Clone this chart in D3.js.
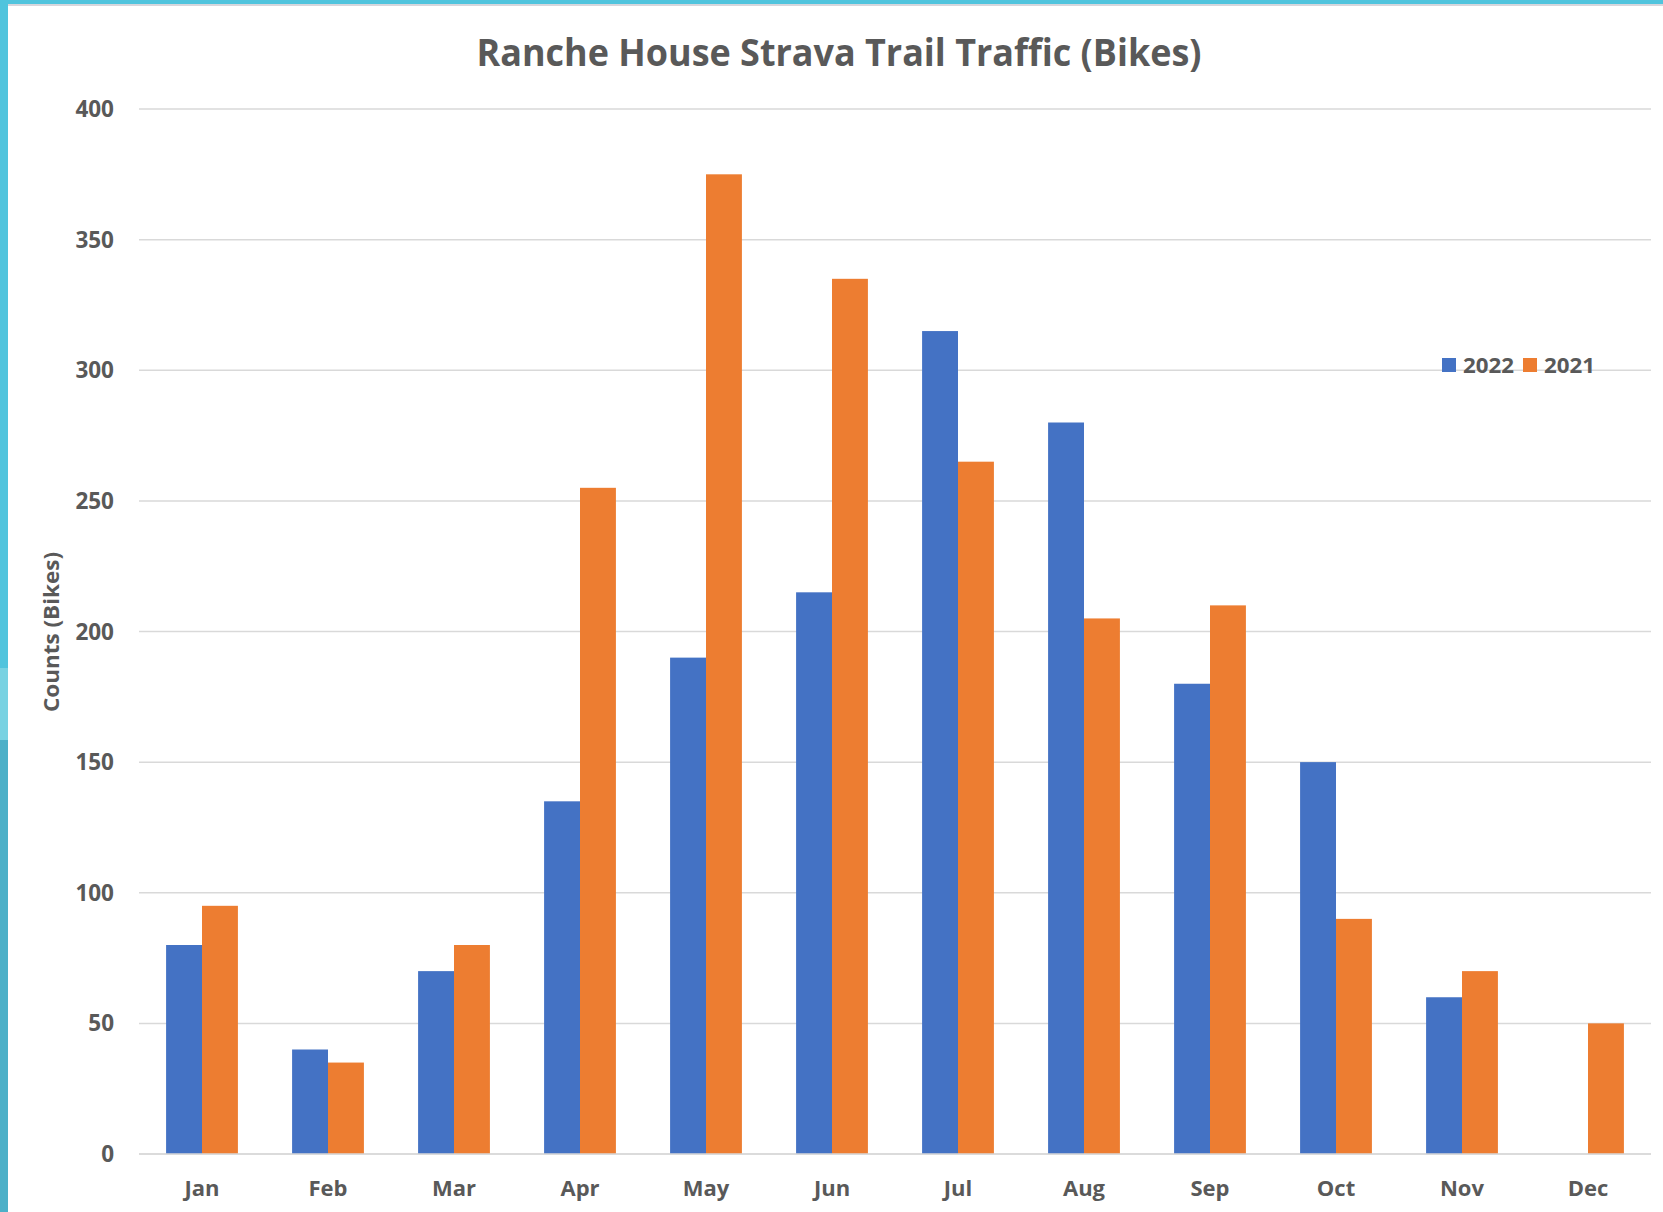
<!DOCTYPE html>
<html>
<head>
<meta charset="utf-8">
<script src="https://cdn.jsdelivr.net/npm/d3@7"></script>
<style>
  body { margin: 0; background: #fff; }
  svg { display: block; }
  text { font-family: "Open Sans", sans-serif; font-weight: bold; fill: #595959; }
</style>
</head>
<body>
<svg id="chart"></svg>
<script>
// data
var months = ["Jan", "Feb", "Mar", "Apr", "May", "Jun", "Jul", "Aug", "Sep", "Oct", "Nov", "Dec"];
var bikes2022 = [80, 40, 70, 135, 190, 215, 315, 280, 180, 150, 60, null];
var bikes2021 = [95, 35, 80, 255, 375, 335, 265, 205, 210, 90, 70, 50];
var seriesNames = ["2022", "2021"];
var seriesColors = ["#4472c4", "#ed7d31"];
var yTicks = [0, 50, 100, 150, 200, 250, 300, 350, 400];

var svgWidth = 1663;
var svgHeight = 1212;

var svg = d3.select("#chart")
    .attr("width", svgWidth)
    .attr("height", svgHeight);

// slide frame bits (cyan strip on left and top)
svg.append("rect").attr("x", 0).attr("y", 0).attr("width", svgWidth).attr("height", 4).attr("fill", "#50c4dd");
svg.append("rect").attr("x", 0).attr("y", 4).attr("width", svgWidth).attr("height", 2).attr("fill", "#d6d6dc");
svg.append("rect").attr("x", 0).attr("y", 0).attr("width", 8).attr("height", 668).attr("fill", "#50c4dd");
svg.append("rect").attr("x", 0).attr("y", 668).attr("width", 8).attr("height", 72).attr("fill", "#78d2e2");
svg.append("rect").attr("x", 0).attr("y", 740).attr("width", 8).attr("height", svgHeight - 740).attr("fill", "#4cb0c8");

var x0 = d3.scaleBand()
    .domain(months)
    .range([139, 1651])
    .paddingInner(0.43)
    .paddingOuter(0.215);

var x1 = d3.scaleBand()
    .domain(seriesNames)
    .range([0, x0.bandwidth()]);

var y = d3.scaleLinear()
    .domain([0, 400])
    .range([1154, 109]);

// gridlines
svg.append("g")
    .selectAll("line")
    .data(yTicks)
    .enter()
    .append("line")
    .attr("x1", 139)
    .attr("x2", 1651)
    .attr("y1", function (d) { return y(d); })
    .attr("y2", function (d) { return y(d); })
    .attr("stroke", "#d9d9d9")
    .attr("stroke-width", 1.5);

// y tick labels
svg.append("g")
    .selectAll("text")
    .data(yTicks)
    .enter()
    .append("text")
    .attr("x", 114)
    .attr("y", function (d) { return y(d); })
    .attr("dy", "0.36em")
    .attr("text-anchor", "end")
    .style("font-size", "22.5px")
    .text(function (d) { return d; });

// bars
var rows = months.map(function (m, i) {
    return { month: m, values: [bikes2022[i], bikes2021[i]] };
});

var groups = svg.append("g")
    .selectAll("g")
    .data(rows)
    .enter()
    .append("g")
    .attr("transform", function (d) { return "translate(" + x0(d.month) + ",0)"; });

groups.selectAll("rect")
    .data(function (d) {
        return d.values.map(function (v, j) { return { name: seriesNames[j], value: v, color: seriesColors[j] }; })
            .filter(function (e) { return e.value != null; });
    })
    .enter()
    .append("rect")
    .attr("x", function (d) { return x1(d.name); })
    .attr("width", x1.bandwidth())
    .attr("y", function (d) { return y(d.value); })
    .attr("height", function (d) { return y(0) - y(d.value); })
    .attr("fill", function (d) { return d.color; });

// baseline on top of bars
svg.append("line")
    .attr("x1", 139).attr("x2", 1651)
    .attr("y1", y(0)).attr("y2", y(0))
    .attr("stroke", "#d9d9d9")
    .attr("stroke-width", 1.5);

// month labels
svg.append("g")
    .selectAll("text")
    .data(months)
    .enter()
    .append("text")
    .attr("x", function (d) { return x0(d) + x0.bandwidth() / 2; })
    .attr("y", 1196)
    .attr("text-anchor", "middle")
    .style("font-size", "22px")
    .text(function (d) { return d; });

// title
svg.append("text")
    .attr("x", 839)
    .attr("y", 66)
    .attr("text-anchor", "middle")
    .attr("textLength", 725)
    .attr("lengthAdjust", "spacingAndGlyphs")
    .style("font-size", "37px")
    .text("Ranche House Strava Trail Traffic (Bikes)");

// y axis title
svg.append("text")
    .attr("transform", "translate(59,632) rotate(-90)")
    .attr("text-anchor", "middle")
    .attr("textLength", 160)
    .attr("lengthAdjust", "spacingAndGlyphs")
    .style("font-size", "22px")
    .text("Counts (Bikes)");

// legend
var legend = svg.append("g")
    .selectAll("g")
    .data(seriesNames)
    .enter()
    .append("g")
    .attr("transform", function (d, i) { return "translate(" + (1442 + i * 81) + ",358)"; });

legend.append("rect")
    .attr("width", 14)
    .attr("height", 14)
    .attr("fill", function (d, i) { return seriesColors[i]; });

legend.append("text")
    .attr("x", 21)
    .attr("y", 15)
    .attr("textLength", 51)
    .attr("lengthAdjust", "spacingAndGlyphs")
    .style("font-size", "22px")
    .text(function (d) { return d; });
</script>
</body>
</html>
